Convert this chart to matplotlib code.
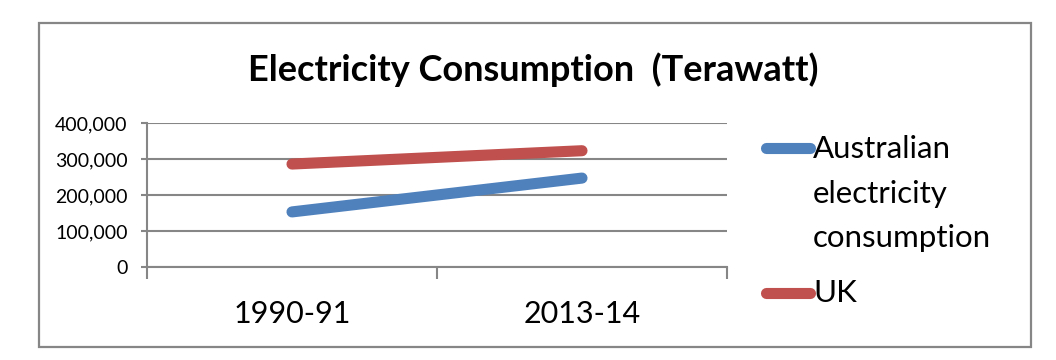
import matplotlib
matplotlib.use("Agg")
import matplotlib.pyplot as plt
from matplotlib.patches import Rectangle
from matplotlib.lines import Line2D

categories = ["1990-91", "2013-14"]
australia = [153000, 247000]
uk = [286000, 323000]
series_names = ["Australian\nelectricity\nconsumption", "UK"]
yticks = [0, 100000, 200000, 300000, 400000]
title = "Electricity Consumption  (Terawatt)"

BLUE = "#4F81BD"
RED = "#C0504D"
GRID = "#868686"
FONT = "Lato"

W, H = 1056, 360
fig = plt.figure(figsize=(W / 100, H / 100), dpi=100)

def fx(px):
    return px / W

def fy(py):
    return 1 - py / H

# outer border
fig.patches.append(Rectangle((fx(39), fy(347)), fx(1031) - fx(39), fy(23) - fy(347),
                             transform=fig.transFigure, fill=False,
                             edgecolor=GRID, linewidth=1.6))

ax = fig.add_axes([fx(147), fy(267), fx(727) - fx(147), fy(123) - fy(267)])
x = list(range(len(categories)))
ax.plot(x, australia, color=BLUE, linewidth=8, solid_capstyle="round", zorder=3)
ax.plot(x, uk, color=RED, linewidth=8, solid_capstyle="round", zorder=3)

ax.set_xlim(-0.5, len(categories) - 0.5)
ax.set_ylim(0, 400000)
ax.set_yticks(yticks)
ax.set_yticklabels([f"{v:,}" for v in yticks], fontsize=14, family=FONT)
ax.yaxis.grid(True, color=GRID, linewidth=1.5)
ax.set_axisbelow(True)
for s in ["top", "right"]:
    ax.spines[s].set_visible(False)
for s in ["left", "bottom"]:
    ax.spines[s].set_color(GRID)
    ax.spines[s].set_linewidth(1.5)
ax.tick_params(axis="y", length=4, width=1.5, color=GRID, pad=10)

ax.set_xticks([-0.5, 0.5, 1.5])
ax.set_xticklabels([])
ax.set_xticks(x, minor=True)
ax.set_xticklabels(categories, minor=True, fontsize=22, family=FONT)
ax.tick_params(axis="x", which="major", length=8.5, width=1.5, color=GRID)
ax.tick_params(axis="x", which="minor", length=0, pad=24)
ax.patch.set_alpha(0)

fig.text(fx(533), fy(70), title, ha="center", va="center", fontsize=26,
         fontweight="bold", family=FONT)

# legend
fig.add_artist(Line2D([fx(766), fx(810)], [fy(148), fy(148)], transform=fig.transFigure,
                      color=BLUE, linewidth=8, solid_capstyle="round"))
fig.add_artist(Line2D([fx(766), fx(810)], [fy(293), fy(293)], transform=fig.transFigure,
                      color=RED, linewidth=8, solid_capstyle="round"))
fig.text(fx(813), fy(135), series_names[0], ha="left", va="top", fontsize=22.5,
         family=FONT, linespacing=1.72)
fig.text(fx(813), fy(293), series_names[1], ha="left", va="center", fontsize=22.5,
         family=FONT)

fig.savefig("out.png", dpi=100, facecolor="white")
